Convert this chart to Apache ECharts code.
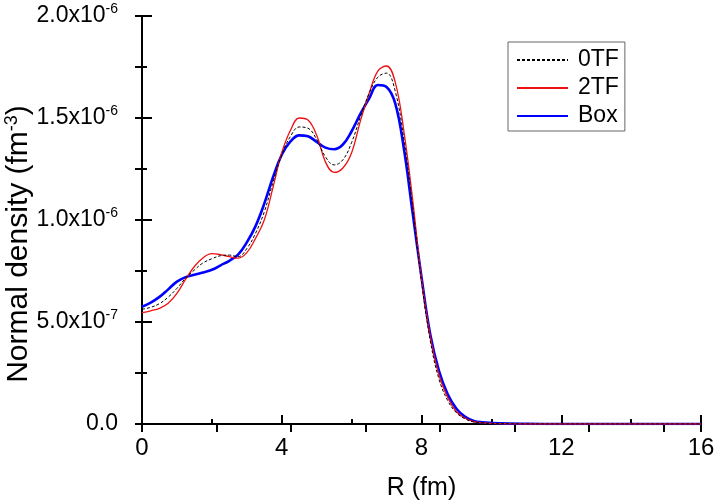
<!DOCTYPE html>
<html>
<head>
<meta charset="utf-8">
<script src="https://cdn.jsdelivr.net/npm/echarts@6/dist/echarts.min.js"></script>
<style>
  html, body { margin: 0; padding: 0; background: #fff; }
  #chart { width: 715px; height: 503px; }
</style>
</head>
<body>
<div id="chart"></div>
<script>
// R (fm) sample points
var rValues = [0, 0.25, 0.5, 0.75, 1, 1.25, 1.5, 1.75, 2, 2.25, 2.5, 2.75, 3, 3.25, 3.5, 3.75,
  4, 4.25, 4.5, 4.75, 5, 5.25, 5.5, 5.75, 6, 6.25, 6.5, 6.75, 7, 7.25, 7.5, 7.75,
  8, 8.25, 8.5, 8.75, 9, 9.25, 9.5, 9.75, 10, 10.5, 11, 12, 13, 14, 15, 16];

// densities in units of 1e-7 fm^-3
var zeroTF = [5.62, 5.72, 5.9, 6.22, 6.65, 7.15, 7.55, 7.9, 8.1, 8.25, 8.28, 8.2, 8.6, 9.35, 10.4, 11.85,
  13.2, 14.1, 14.56, 14.5, 13.95, 13.1, 12.7, 12.95, 13.8, 15.05, 16.2, 17.0, 17.2, 16.3, 13.9, 10.6,
  7.0, 4.1, 2.2, 1.15, 0.55, 0.25, 0.1, 0.05, 0.02, 0.01, 0, 0, 0, 0, 0, 0];
var twoTF = [5.46, 5.55, 5.67, 5.92, 6.4, 7.1, 7.72, 8.15, 8.35, 8.3, 8.2, 8.13, 8.4, 9.1, 10.0, 11.6,
  13.3, 14.4, 15.0, 14.9, 14.15, 12.85, 12.33, 12.55, 13.3, 14.85, 16.2, 17.3, 17.55, 16.75, 14.3, 10.95,
  7.1, 4.3, 2.4, 1.3, 0.6, 0.28, 0.12, 0.06, 0.03, 0.01, 0, 0, 0, 0, 0, 0];
var box = [5.75, 5.95, 6.23, 6.6, 6.98, 7.2, 7.32, 7.43, 7.56, 7.78, 8.0, 8.3, 8.9, 9.7, 10.8, 12.1,
  13.2, 13.85, 14.15, 14.1, 13.83, 13.55, 13.47, 13.7, 14.35, 15.2, 15.95, 16.62, 16.52, 15.7, 13.45, 10.3,
  7.2, 4.4, 2.6, 1.45, 0.75, 0.35, 0.15, 0.08, 0.05, 0.02, 0.01, 0, 0, 0, 0, 0];

var yTickValues = [0, 5, 10, 15, 20];
var yTickMantissa = ['0.0', '5.0', '1.0', '1.5', '2.0'];
var yTickExponent = ['', '-7', '-6', '-6', '-6'];

function pairs(ys) {
  return rValues.map(function (r, i) { return [r, ys[i]]; });
}

var font = 'Liberation Sans, Arial, sans-serif';
var chart = echarts.init(document.getElementById('chart'));

chart.setOption({
  animation: false,
  grid: { left: 142, right: 14, top: 16, bottom: 79, containLabel: false, outerBoundsMode: 'none' },
  legend: {
    orient: 'vertical',
    left: 508,
    top: 42,
    padding: [6, 6, 3, 8],
    itemGap: 4,
    itemWidth: 51,
    itemHeight: 12,
    borderColor: '#666',
    borderWidth: 1,
    itemStyle: { opacity: 0 },
    textStyle: { fontFamily: font, fontSize: 23, color: '#000', lineHeight: 24, padding: [0, 0, 0, 5] },
    data: ['0TF', '2TF', 'Box']
  },
  xAxis: [{
    type: 'value',
    min: 0, max: 16, interval: 4,
    name: 'R (fm)',
    nameLocation: 'middle',
    nameGap: 52,
    nameTextStyle: { fontFamily: font, fontSize: 25, color: '#000' },
    axisLine: { lineStyle: { color: '#000', width: 2 } },
    axisTick: { inside: true, length: 9, lineStyle: { color: '#000', width: 2 } },
    minorTick: { show: true, splitNumber: 2, length: 5, lineStyle: { color: '#000', width: 2 } },
    axisLabel: { fontFamily: font, fontSize: 24, color: '#000', margin: 12 },
    splitLine: { show: false }
  }, {
    type: 'value',
    position: 'top',
    min: 0, max: 15, interval: 2,
    axisLine: { show: true, lineStyle: { color: '#000', width: 2 } },
    axisTick: { inside: true, length: 8, lineStyle: { color: '#000', width: 2 } },
    axisLabel: { show: false },
    splitLine: { show: false }
  }],
  yAxis: [{
    type: 'value',
    min: 0, max: 20, interval: 5,
    name: '{a|Normal density (fm}{s|-3}{a|)}',
    nameLocation: 'middle',
    nameGap: 107,
    nameMoveOverlap: false,
    nameTextStyle: {
      padding: [0, 48, 0, 0],
      rich: {
        a: { fontFamily: font, fontSize: 30, color: '#000', lineHeight: 32 },
        s: { fontFamily: font, fontSize: 18, color: '#000', verticalAlign: 'top', lineHeight: 18 }
      }
    },
    axisLine: { lineStyle: { color: '#000', width: 2 } },
    axisTick: { inside: true, length: 10, lineStyle: { color: '#000', width: 2 } },
    minorTick: { show: true, splitNumber: 2, length: 5, lineStyle: { color: '#000', width: 2 } },
    axisLabel: {
      margin: 24,
      formatter: function (v) {
        var i = yTickValues.indexOf(v);
        if (i < 0) return '';
        return yTickExponent[i] ? '{m|' + yTickMantissa[i] + 'x10}{e|' + yTickExponent[i] + '}' : '{m|' + yTickMantissa[i] + '}';
      },
      rich: {
        m: { fontFamily: font, fontSize: 23, color: '#000', lineHeight: 27 },
        e: { fontFamily: font, fontSize: 14, color: '#000', verticalAlign: 'top', lineHeight: 14 }
      }
    },
    splitLine: { show: false }
  }, {
    type: 'value',
    position: 'right',
    min: 0, max: 20, interval: 2.5,
    axisLine: { show: true, lineStyle: { color: '#000', width: 2 } },
    axisTick: { inside: true, length: 7, lineStyle: { color: '#000', width: 2 } },
    axisLabel: { show: false },
    splitLine: { show: false }
  }],
  series: [{
    name: '0TF', type: 'line', smooth: 0.4, symbol: 'none',
    xAxisIndex: 0, yAxisIndex: 0,
    lineStyle: { color: '#000', width: 1, type: [3, 2] },
    itemStyle: { color: '#000' },
    data: pairs(zeroTF), z: 3
  }, {
    name: '2TF', type: 'line', smooth: 0.4, symbol: 'none',
    xAxisIndex: 0, yAxisIndex: 0,
    lineStyle: { color: '#ee1111', width: 1.3 },
    itemStyle: { color: '#ee1111' },
    data: pairs(twoTF), z: 2
  }, {
    name: 'Box', type: 'line', smooth: 0.4, symbol: 'none',
    xAxisIndex: 0, yAxisIndex: 0,
    lineStyle: { color: '#0000ff', width: 2.6 },
    itemStyle: { color: '#0000ff' },
    data: pairs(box), z: 1
  }]
});
</script>
</body>
</html>
